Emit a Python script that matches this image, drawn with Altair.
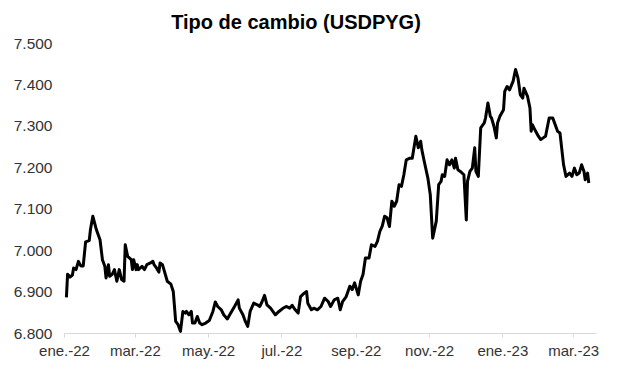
import altair as alt
import pandas as pd
import json

dates = [
    "2022-01-03", "2022-01-04", "2022-01-06", "2022-01-08", "2022-01-09", "2022-01-11", "2022-01-13", "2022-01-15",
    "2022-01-17", "2022-01-19", "2022-01-22", "2022-01-23", "2022-01-25", "2022-01-28", "2022-01-31", "2022-02-02",
    "2022-02-04", "2022-02-05", "2022-02-07", "2022-02-08", "2022-02-10", "2022-02-12", "2022-02-14", "2022-02-16",
    "2022-02-18", "2022-02-20", "2022-02-21", "2022-02-23", "2022-02-26", "2022-02-27", "2022-02-28", "2022-03-02",
    "2022-03-03", "2022-03-04", "2022-03-07", "2022-03-09", "2022-03-11", "2022-03-14", "2022-03-16", "2022-03-17",
    "2022-03-19", "2022-03-21", "2022-03-22", "2022-03-24", "2022-03-26", "2022-03-28", "2022-03-31", "2022-04-02",
    "2022-04-04", "2022-04-06", "2022-04-08", "2022-04-10", "2022-04-12", "2022-04-13", "2022-04-15", "2022-04-17",
    "2022-04-18", "2022-04-20", "2022-04-22", "2022-04-24", "2022-04-26", "2022-04-29", "2022-05-02", "2022-05-05",
    "2022-05-07", "2022-05-09", "2022-05-12", "2022-05-14", "2022-05-17", "2022-05-19", "2022-05-23", "2022-05-26",
    "2022-05-27", "2022-05-30", "2022-06-01", "2022-06-03", "2022-06-05", "2022-06-08", "2022-06-11", "2022-06-13",
    "2022-06-15", "2022-06-17", "2022-06-19", "2022-06-22", "2022-06-26", "2022-06-29", "2022-07-02", "2022-07-05",
    "2022-07-08", "2022-07-10", "2022-07-12", "2022-07-15", "2022-07-17", "2022-07-20", "2022-07-22", "2022-07-23",
    "2022-07-26", "2022-07-28", "2022-07-31", "2022-08-03", "2022-08-06", "2022-08-09", "2022-08-11", "2022-08-14",
    "2022-08-17", "2022-08-19", "2022-08-21", "2022-08-24", "2022-08-27", "2022-08-29", "2022-08-31", "2022-09-03",
    "2022-09-05", "2022-09-07", "2022-09-09", "2022-09-12", "2022-09-14", "2022-09-17", "2022-09-19", "2022-09-21",
    "2022-09-23", "2022-09-25", "2022-09-27", "2022-09-29", "2022-10-01", "2022-10-03", "2022-10-05", "2022-10-07",
    "2022-10-09", "2022-10-11", "2022-10-13", "2022-10-16", "2022-10-18", "2022-10-21", "2022-10-23", "2022-10-25",
    "2022-10-26", "2022-10-28", "2022-10-31", "2022-11-02", "2022-11-04", "2022-11-07", "2022-11-09", "2022-11-11",
    "2022-11-12", "2022-11-14", "2022-11-16", "2022-11-18", "2022-11-20", "2022-11-22", "2022-11-23", "2022-11-25",
    "2022-11-27", "2022-11-30", "2022-12-02", "2022-12-03", "2022-12-05", "2022-12-07", "2022-12-09", "2022-12-10",
    "2022-12-12", "2022-12-14", "2022-12-17", "2022-12-18", "2022-12-20", "2022-12-22", "2022-12-23", "2022-12-25",
    "2022-12-27", "2022-12-28", "2022-12-30", "2023-01-02", "2023-01-03", "2023-01-05", "2023-01-07", "2023-01-10",
    "2023-01-12", "2023-01-14", "2023-01-16", "2023-01-18", "2023-01-19", "2023-01-22", "2023-01-24", "2023-01-25",
    "2023-01-26", "2023-01-28", "2023-01-31", "2023-02-02", "2023-02-04", "2023-02-06", "2023-02-09", "2023-02-12",
    "2023-02-14", "2023-02-16", "2023-02-18", "2023-02-21", "2023-02-23", "2023-02-26", "2023-02-28", "2023-03-02",
    "2023-03-04", "2023-03-06", "2023-03-08", "2023-03-10", "2023-03-11", "2023-03-13", "2023-03-14",
]

values = [
    6886, 6942, 6935, 6940, 6957, 6953, 6973, 6962,
    6962, 7020, 7023, 7049, 7082, 7049, 7025, 6977,
    6961, 6933, 6965, 6937, 6941, 6953, 6925, 6953,
    6929, 6925, 7013, 6985, 6977, 6953, 6977, 6953,
    6965, 6953, 6961, 6953, 6965, 6969, 6973, 6965,
    6957, 6947, 6969, 6965, 6945, 6925, 6918, 6900,
    6828, 6820, 6804, 6852, 6848, 6852, 6844, 6852,
    6824, 6824, 6840, 6824, 6820, 6824, 6830, 6852,
    6875, 6864, 6856, 6844, 6834, 6844, 6864, 6880,
    6860, 6844, 6828, 6816, 6852, 6872, 6868, 6864,
    6876, 6891, 6868, 6860, 6844, 6852, 6859, 6864,
    6860, 6867, 6858, 6848, 6888, 6896, 6900, 6872,
    6856, 6860, 6856, 6864, 6884, 6876, 6864, 6880,
    6884, 6856, 6876, 6888, 6913, 6905, 6921, 6892,
    6925, 6941, 6981, 6981, 7013, 7009, 7021, 7045,
    7058, 7082, 7078, 7057, 7118, 7106, 7118, 7158,
    7154, 7182, 7218, 7222, 7222, 7275, 7247, 7263,
    7242, 7214, 7174, 7134, 7029, 7070, 7158, 7166,
    7182, 7178, 7218, 7206, 7218, 7198, 7222, 7194,
    7190, 7182, 7073, 7166, 7190, 7198, 7247, 7190,
    7178, 7295, 7307, 7319, 7355, 7323, 7319, 7299,
    7271, 7307, 7323, 7339, 7383, 7395, 7387, 7408,
    7436, 7416, 7375, 7367, 7391, 7371, 7343, 7287,
    7303, 7291, 7275, 7267, 7271, 7275, 7319, 7319,
    7303, 7287, 7283, 7206, 7178, 7186, 7178, 7198,
    7182, 7186, 7206, 7190, 7170, 7186, 7162,
]

month_names = ["ene.", "feb.", "mar.", "abr.", "may.", "jun.",
               "jul.", "ago.", "sep.", "oct.", "nov.", "dic."]
tick_dates = ["2022-01-01", "2022-03-01", "2022-05-01", "2022-07-01",
              "2022-09-01", "2022-11-01", "2023-01-01", "2023-03-01"]
y_ticks = [6800, 6900, 7000, 7100, 7200, 7300, 7400, 7500]

df = pd.DataFrame({"fecha": [d + "T00:00:00" for d in dates], "valor": values})

tick_vals = [alt.DateTime(year=int(d[:4]), month=int(d[5:7]), date=int(d[8:10])) for d in tick_dates]

x_label_expr = (json.dumps(month_names) + "[month(datum.value)] + '-' + timeFormat(datum.value, '%y')")

FONT = "Liberation Sans"

chart = alt.Chart(df).mark_line(color="#000000", strokeWidth=3, strokeJoin="round").encode(
    x=alt.X("fecha:T",
            scale=alt.Scale(domain=[alt.DateTime(year=2022, month=1, date=1),
                                    alt.DateTime(year=2023, month=3, date=20)]),
            axis=alt.Axis(title=None, values=tick_vals, labelExpr=x_label_expr,
                          grid=False, domainColor="#d9d9d9", tickColor="#d9d9d9",
                          tickSize=4, labelFontSize=15, labelColor="#333333",
                          labelFont=FONT, labelPadding=6, labelOverlap=False,
                          labelFlush=False)),
    y=alt.Y("valor:Q",
            scale=alt.Scale(domain=[6800, 7500], nice=False, zero=False),
            axis=alt.Axis(title=None, values=y_ticks, grid=False, domain=False, ticks=False,
                          labelExpr="replace(format(datum.value, ',.0f'), ',', '.')",
                          labelFontSize=15.5, labelColor="#333333", labelFont=FONT,
                          labelPadding=12, labelFlush=False)),
).properties(
    width=532,
    height=290,
    title=alt.TitleParams("Tipo de cambio (USDPYG)", font=FONT, fontSize=20,
                          fontWeight="bold", color="#000000", offset=6, dy=3, dx=-34),
).configure_view(stroke=None)

chart.save("out.html", embed_options={"renderer": "svg", "actions": False})
